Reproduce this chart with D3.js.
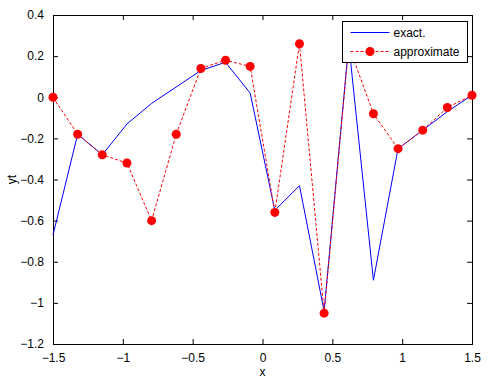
<!DOCTYPE html>
<html>
<head>
<meta charset="utf-8">
<script src="https://cdn.jsdelivr.net/npm/d3@7"></script>
<style>
  body { margin: 0; background: #fff; }
  svg text { font-family: "Liberation Sans", Arial, sans-serif; font-size: 12px; }
</style>
</head>
<body>
<div id="chart"></div>
<script>
// 18 sample points on [-1.5, 1.5]
var xs = [-1.5, -1.3235, -1.1471, -0.9706, -0.7941, -0.6176, -0.4412, -0.2647, -0.0882,
          0.0882, 0.2647, 0.4412, 0.6176, 0.7941, 0.9706, 1.1471, 1.3235, 1.5];
var exact = [-0.67, -0.18, -0.28, -0.13, -0.03, 0.05, 0.13, 0.17, 0.02,
             -0.55, -0.43, -1.04, 0.26, -0.89, -0.25, -0.16, -0.07, 0.01];
var approx = [0.0, -0.18, -0.28, -0.32, -0.60, -0.18, 0.14, 0.18, 0.15,
              -0.56, 0.26, -1.05, 0.25, -0.08, -0.25, -0.16, -0.05, 0.01];
var xTicks = [-1.5, -1, -0.5, 0, 0.5, 1, 1.5];
var yTicks = [-1.2, -1, -0.8, -0.6, -0.4, -0.2, 0, 0.2, 0.4];
var seriesNames = ["exact.", "approximate"];

var W = 492, H = 387;
var margin = { top: 15, right: 20, bottom: 43, left: 53 };
var width = W - margin.left - margin.right;
var height = H - margin.top - margin.bottom;

var svg = d3.select("#chart").append("svg")
       .attr("width", W).attr("height", H);
var g = svg.append("g")
       .attr("transform", "translate(" + margin.left + "," + margin.top + ")");

var x = d3.scaleLinear().domain([-1.5, 1.5]).range([0, width]);
var y = d3.scaleLinear().domain([-1.2, 0.4]).range([height, 0]);

var fmt = function (d) { return d3.format("")(+d.toFixed(2)); };

// axes, ticks pointing inward (matlab box style)
g.append("g").attr("transform", "translate(0," + height + ")")
       .call(d3.axisBottom(x).tickValues(xTicks).tickSize(-5).tickPadding(9).tickFormat(fmt));
g.append("g")
       .call(d3.axisTop(x).tickValues(xTicks).tickSize(-5).tickFormat(""));
g.append("g")
       .call(d3.axisLeft(y).tickValues(yTicks).tickSize(-5).tickPadding(9).tickFormat(fmt));
g.append("g").attr("transform", "translate(" + width + ",0)")
       .call(d3.axisRight(y).tickValues(yTicks).tickSize(-5).tickFormat(""));

g.selectAll(".domain").attr("stroke", "#000");
g.selectAll(".tick line").attr("stroke", "#000");
g.selectAll(".tick text").attr("fill", "#000").style("font-size", "12px");

var line = d3.line().x(function (d, i) { return x(xs[i]); }).y(function (d) { return y(d); });

g.append("path").datum(exact)
       .attr("d", line).attr("fill", "none")
       .attr("stroke", "#0000ff").attr("stroke-width", 1);

g.append("path").datum(approx)
       .attr("d", line).attr("fill", "none")
       .attr("stroke", "#ff0000").attr("stroke-width", 1)
       .attr("stroke-dasharray", "3,2");

g.selectAll("circle.pt").data(approx).enter()
       .append("circle").attr("class", "pt")
       .attr("cx", function (d, i) { return x(xs[i]); })
       .attr("cy", function (d) { return y(d); })
       .attr("r", 4.5).attr("fill", "#ff0000");

// legend
var lg = svg.append("g").attr("transform", "translate(342.5,21.5)");
lg.append("rect").attr("width", 125).attr("height", 41)
       .attr("fill", "#fff").attr("stroke", "#000");
lg.append("line").attr("x1", 8).attr("x2", 47).attr("y1", 11).attr("y2", 11)
       .attr("stroke", "#0000ff");
lg.append("line").attr("x1", 8).attr("x2", 47).attr("y1", 30).attr("y2", 30)
       .attr("stroke", "#ff0000").attr("stroke-dasharray", "3,2");
lg.append("circle").attr("cx", 27.5).attr("cy", 30).attr("r", 4.5).attr("fill", "#ff0000");
lg.selectAll("text.lab").data(seriesNames).enter()
       .append("text").attr("class", "lab")
       .attr("x", 51).attr("y", function (d, i) { return 11 + i * 19; })
       .attr("dy", "0.35em").text(function (d) { return d; });

// axis labels
svg.append("text").attr("x", margin.left + x(0)).attr("y", 376)
       .attr("text-anchor", "middle").text("x");
svg.append("text").attr("transform", "translate(16," + (margin.top + y(-0.4)) + ") rotate(-90)")
       .attr("text-anchor", "middle").text("yt");
</script>
</body>
</html>
